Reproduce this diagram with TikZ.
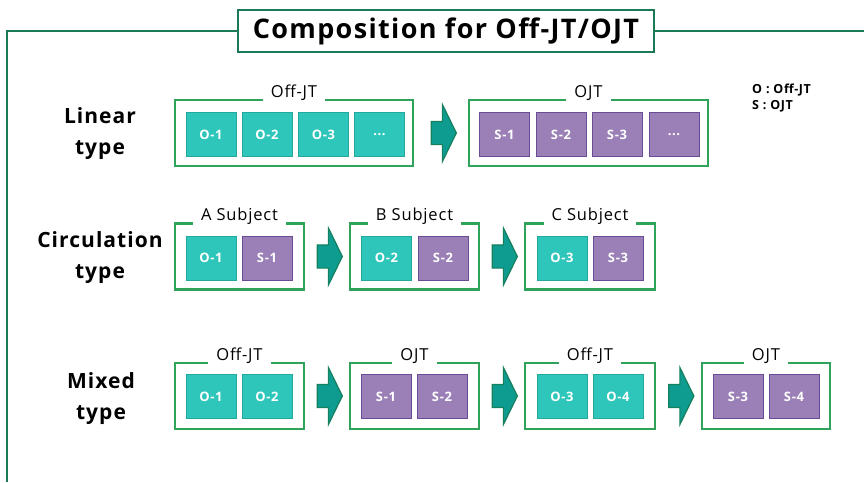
\documentclass[tikz,border=0pt]{standalone}
\usepackage{fontspec}
\setmainfont{Open Sans}[LetterSpace=5]
\usepackage{xcolor}
\usetikzlibrary{shapes.arrows,calc}

\definecolor{framegreen}{HTML}{1B7A55}
\definecolor{grpgreen}{HTML}{2FA35A}
\definecolor{offfill}{HTML}{2EC6BA}
\definecolor{offline}{HTML}{23A89C}
\definecolor{ojtfill}{HTML}{9A80B6}
\definecolor{ojtline}{HTML}{6A4C96}
\definecolor{arrfill}{HTML}{0E9C90}
\definecolor{arrline}{HTML}{167F5E}

\tikzset{
  grp/.style={draw=grpgreen, line width=2.4pt, minimum width=129pt, minimum height=66pt},
  grplabel/.style={fill=white, inner xsep=8pt, inner ysep=2pt, font=\fontsize{16.5}{18}\selectfont},
  offbox/.style={draw=offline, fill=offfill, line width=0.8pt, minimum width=50pt, minimum height=44pt,
    text=white, font=\fontsize{13}{14}\selectfont\bfseries},
  ojtbox/.style={offbox, draw=ojtline, fill=ojtfill},
  blockarrow/.style={single arrow, draw=arrline, fill=arrfill, line width=1.2pt,
    inner sep=0pt, inner ysep=11pt, single arrow head extend=17pt,
    single arrow tip angle=128, minimum height=25pt},
  rowlabel/.style={align=center, font=\fontsize{21}{31}\selectfont\bfseries}
}

\begin{document}
\begin{tikzpicture}[x=1pt,y=-1pt]
  \useasboundingbox (0,0) rectangle (864,482);

  % title and the outer frame
  \node[draw=framegreen, line width=2.2pt, fill=white, minimum width=416pt, minimum height=42pt,
        font=\fontsize{27}{30}\selectfont\bfseries] (title) at (446,31) {Composition for Off-JT/OJT};
  \draw[framegreen, line width=2.4pt] (title.west) -- (7,31) -- (7,482);
  \draw[framegreen, line width=2.4pt] (title.east) -- (864,31);

  % legend
  \node[anchor=north west, align=left, inner sep=0pt, font=\fontsize{12.5}{16}\selectfont\bfseries]
    (legend) at (752,84) {O : Off-JT\\S : OJT};

  % linear type
  \node[rowlabel] (linlbl) at (100,134) {Linear\\type};
  \node[grp, minimum width=238pt] (lin1) at (294,133) {};
  \node[grplabel] at ([yshift=6pt]lin1.north) {Off-JT};
  \node[offbox] (lo1) at (211,134.5) {O-1};
  \node[offbox] (lo2) at (267,134.5) {O-2};
  \node[offbox] (lo3) at (323.5,134.5) {O-3};
  \node[offbox] (lo4) at (379.5,134.5) {...};
  \node[grp, minimum width=239pt] (lin2) at (588.5,133) {};
  \node[grplabel] at ([yshift=6pt]lin2.north) {OJT};
  \node[ojtbox] (ls1) at (504.5,134.5) {S-1};
  \node[ojtbox] (ls2) at (561,134.5) {S-2};
  \node[ojtbox] (ls3) at (617,134.5) {S-3};
  \node[ojtbox] (ls4) at (674,134.5) {...};
  \node[blockarrow] (la1) at ($(lin1.east)!0.5!(lin2.west)$) {};

  % circulation type
  \node[rowlabel] (cirlbl) at (100,257.5) {Circulation\\type};
  \node[grp] (cir1) at (239.5,256.5) {};
  \node[grplabel] at ([yshift=6pt]cir1.north) {A Subject};
  \node[offbox] (co1) at (211,258) {O-1};
  \node[ojtbox] (cs1) at (267,258) {S-1};
  \node[grp] (cir2) at (414.5,256.5) {};
  \node[grplabel] at ([yshift=6pt]cir2.north) {B Subject};
  \node[offbox] (co2) at (386.5,258) {O-2};
  \node[ojtbox] (cs2) at (443,258) {S-2};
  \node[grp, minimum width=130pt] (cir3) at (590,256.5) {};
  \node[grplabel] at ([yshift=6pt]cir3.north) {C Subject};
  \node[offbox] (co3) at (562,258) {O-3};
  \node[ojtbox] (cs3) at (618,258) {S-3};
  \node[blockarrow] (ca1) at ($(cir1.east)!0.5!(cir2.west)$) {};
  \node[blockarrow] (ca2) at ($(cir2.east)!0.5!(cir3.west)$) {};

  % mixed type
  \node[rowlabel] (mixlbl) at (101,398.5) {Mixed\\type};
  \node[grp] (mix1) at (239.5,396) {};
  \node[grplabel] at ([yshift=6pt]mix1.north) {Off-JT};
  \node[offbox] (mo1) at (211,396.5) {O-1};
  \node[offbox] (mo2) at (267,396.5) {O-2};
  \node[grp] (mix2) at (414.5,396) {};
  \node[grplabel] at ([yshift=6pt]mix2.north) {OJT};
  \node[ojtbox] (ms1) at (386,396.5) {S-1};
  \node[ojtbox] (ms2) at (442,396.5) {S-2};
  \node[grp, minimum width=130pt] (mix3) at (590,396) {};
  \node[grplabel] at ([yshift=6pt]mix3.north) {Off-JT};
  \node[offbox] (mo3) at (562,396.5) {O-3};
  \node[offbox] (mo4) at (618,396.5) {O-4};
  \node[grp, minimum width=128pt] (mix4) at (766,396) {};
  \node[grplabel] at ([yshift=6pt]mix4.north) {OJT};
  \node[ojtbox] (ms3) at (738,396.5) {S-3};
  \node[ojtbox] (ms4) at (794,396.5) {S-4};
  \node[blockarrow] (ma1) at ($(mix1.east)!0.5!(mix2.west)$) {};
  \node[blockarrow] (ma2) at ($(mix2.east)!0.5!(mix3.west)$) {};
  \node[blockarrow] (ma3) at ($(mix3.east)!0.5!(mix4.west)$) {};
\end{tikzpicture}
\end{document}
